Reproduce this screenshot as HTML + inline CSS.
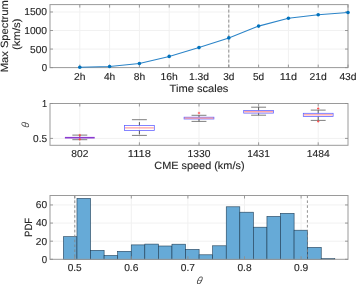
<!DOCTYPE html>
<html><head><meta charset="utf-8"><style>
html,body{margin:0;padding:0;background:#fff;}
svg{display:block;will-change:transform;}
text{stroke:#262626;stroke-width:0.12px;text-rendering:geometricPrecision;font-family:"Liberation Sans",sans-serif;}
</style></head><body>
<svg width="357" height="284" viewBox="0 0 357 284">
<rect width="357" height="284" fill="#fff"/>
<line x1="79.80" y1="4.60" x2="79.80" y2="67.60" stroke="#f1f1f1" stroke-width="1" />
<line x1="109.60" y1="4.60" x2="109.60" y2="67.60" stroke="#f1f1f1" stroke-width="1" />
<line x1="139.40" y1="4.60" x2="139.40" y2="67.60" stroke="#f1f1f1" stroke-width="1" />
<line x1="169.20" y1="4.60" x2="169.20" y2="67.60" stroke="#f1f1f1" stroke-width="1" />
<line x1="199.00" y1="4.60" x2="199.00" y2="67.60" stroke="#f1f1f1" stroke-width="1" />
<line x1="228.80" y1="4.60" x2="228.80" y2="67.60" stroke="#f1f1f1" stroke-width="1" />
<line x1="258.60" y1="4.60" x2="258.60" y2="67.60" stroke="#f1f1f1" stroke-width="1" />
<line x1="288.40" y1="4.60" x2="288.40" y2="67.60" stroke="#f1f1f1" stroke-width="1" />
<line x1="318.20" y1="4.60" x2="318.20" y2="67.60" stroke="#f1f1f1" stroke-width="1" />
<line x1="348.00" y1="4.60" x2="348.00" y2="67.60" stroke="#f1f1f1" stroke-width="1" />
<line x1="50.00" y1="49.06" x2="348.00" y2="49.06" stroke="#f1f1f1" stroke-width="1" />
<line x1="50.00" y1="30.53" x2="348.00" y2="30.53" stroke="#f1f1f1" stroke-width="1" />
<line x1="50.00" y1="11.99" x2="348.00" y2="11.99" stroke="#f1f1f1" stroke-width="1" />
<line x1="228.80" y1="4.60" x2="228.80" y2="67.60" stroke="#8c8c8c" stroke-width="1" stroke-dasharray="3,2"/>
<rect x="50" y="4.6" width="298" height="62.99999999999999" fill="none" stroke="#9a9a9a" stroke-width="1"/>
<line x1="79.80" y1="67.60" x2="79.80" y2="64.60" stroke="#8e8e8e" stroke-width="0.9" />
<line x1="79.80" y1="4.60" x2="79.80" y2="7.60" stroke="#8e8e8e" stroke-width="0.9" />
<line x1="109.60" y1="67.60" x2="109.60" y2="64.60" stroke="#8e8e8e" stroke-width="0.9" />
<line x1="109.60" y1="4.60" x2="109.60" y2="7.60" stroke="#8e8e8e" stroke-width="0.9" />
<line x1="139.40" y1="67.60" x2="139.40" y2="64.60" stroke="#8e8e8e" stroke-width="0.9" />
<line x1="139.40" y1="4.60" x2="139.40" y2="7.60" stroke="#8e8e8e" stroke-width="0.9" />
<line x1="169.20" y1="67.60" x2="169.20" y2="64.60" stroke="#8e8e8e" stroke-width="0.9" />
<line x1="169.20" y1="4.60" x2="169.20" y2="7.60" stroke="#8e8e8e" stroke-width="0.9" />
<line x1="199.00" y1="67.60" x2="199.00" y2="64.60" stroke="#8e8e8e" stroke-width="0.9" />
<line x1="199.00" y1="4.60" x2="199.00" y2="7.60" stroke="#8e8e8e" stroke-width="0.9" />
<line x1="228.80" y1="67.60" x2="228.80" y2="64.60" stroke="#8e8e8e" stroke-width="0.9" />
<line x1="228.80" y1="4.60" x2="228.80" y2="7.60" stroke="#8e8e8e" stroke-width="0.9" />
<line x1="258.60" y1="67.60" x2="258.60" y2="64.60" stroke="#8e8e8e" stroke-width="0.9" />
<line x1="258.60" y1="4.60" x2="258.60" y2="7.60" stroke="#8e8e8e" stroke-width="0.9" />
<line x1="288.40" y1="67.60" x2="288.40" y2="64.60" stroke="#8e8e8e" stroke-width="0.9" />
<line x1="288.40" y1="4.60" x2="288.40" y2="7.60" stroke="#8e8e8e" stroke-width="0.9" />
<line x1="318.20" y1="67.60" x2="318.20" y2="64.60" stroke="#8e8e8e" stroke-width="0.9" />
<line x1="318.20" y1="4.60" x2="318.20" y2="7.60" stroke="#8e8e8e" stroke-width="0.9" />
<line x1="348.00" y1="67.60" x2="348.00" y2="64.60" stroke="#8e8e8e" stroke-width="0.9" />
<line x1="348.00" y1="4.60" x2="348.00" y2="7.60" stroke="#8e8e8e" stroke-width="0.9" />
<line x1="50.00" y1="67.60" x2="53.00" y2="67.60" stroke="#8e8e8e" stroke-width="0.9" />
<line x1="348.00" y1="67.60" x2="345.00" y2="67.60" stroke="#8e8e8e" stroke-width="0.9" />
<line x1="50.00" y1="49.06" x2="53.00" y2="49.06" stroke="#8e8e8e" stroke-width="0.9" />
<line x1="348.00" y1="49.06" x2="345.00" y2="49.06" stroke="#8e8e8e" stroke-width="0.9" />
<line x1="50.00" y1="30.53" x2="53.00" y2="30.53" stroke="#8e8e8e" stroke-width="0.9" />
<line x1="348.00" y1="30.53" x2="345.00" y2="30.53" stroke="#8e8e8e" stroke-width="0.9" />
<line x1="50.00" y1="11.99" x2="53.00" y2="11.99" stroke="#8e8e8e" stroke-width="0.9" />
<line x1="348.00" y1="11.99" x2="345.00" y2="11.99" stroke="#8e8e8e" stroke-width="0.9" />
<polyline points="79.80,67.30 109.60,66.52 139.40,63.50 169.20,56.42 199.00,47.58 228.80,37.89 258.60,26.12 288.40,18.22 318.20,14.71 348.00,12.51" fill="none" stroke="#2b84c8" stroke-width="1.05"/>
<circle cx="79.80" cy="67.30" r="1.8" fill="#0072bd"/>
<circle cx="109.60" cy="66.52" r="1.8" fill="#0072bd"/>
<circle cx="139.40" cy="63.50" r="1.8" fill="#0072bd"/>
<circle cx="169.20" cy="56.42" r="1.8" fill="#0072bd"/>
<circle cx="199.00" cy="47.58" r="1.8" fill="#0072bd"/>
<circle cx="228.80" cy="37.89" r="1.8" fill="#0072bd"/>
<circle cx="258.60" cy="26.12" r="1.8" fill="#0072bd"/>
<circle cx="288.40" cy="18.22" r="1.8" fill="#0072bd"/>
<circle cx="318.20" cy="14.71" r="1.8" fill="#0072bd"/>
<circle cx="348.00" cy="12.51" r="1.8" fill="#0072bd"/>
<text x="79.80" y="79.70" text-anchor="middle" font-size="10.1" textLength="11.42" lengthAdjust="spacingAndGlyphs" fill="#262626" >2h</text>
<text x="109.60" y="79.70" text-anchor="middle" font-size="10.1" textLength="11.33" lengthAdjust="spacingAndGlyphs" fill="#262626" >4h</text>
<text x="139.40" y="79.70" text-anchor="middle" font-size="10.1" textLength="11.46" lengthAdjust="spacingAndGlyphs" fill="#262626" >8h</text>
<text x="169.20" y="79.70" text-anchor="middle" font-size="10.1" textLength="17.26" lengthAdjust="spacingAndGlyphs" fill="#262626" >16h</text>
<text x="199.00" y="79.70" text-anchor="middle" font-size="10.1" textLength="20.09" lengthAdjust="spacingAndGlyphs" fill="#262626" >1.3d</text>
<text x="228.80" y="79.70" text-anchor="middle" font-size="10.1" textLength="11.25" lengthAdjust="spacingAndGlyphs" fill="#262626" >3d</text>
<text x="258.60" y="79.70" text-anchor="middle" font-size="10.1" textLength="11.25" lengthAdjust="spacingAndGlyphs" fill="#262626" >5d</text>
<text x="288.40" y="79.70" text-anchor="middle" font-size="10.1" textLength="17.24" lengthAdjust="spacingAndGlyphs" fill="#262626" >11d</text>
<text x="318.20" y="79.70" text-anchor="middle" font-size="10.1" textLength="17.28" lengthAdjust="spacingAndGlyphs" fill="#262626" >21d</text>
<text x="348.00" y="79.70" text-anchor="middle" font-size="10.1" textLength="17.20" lengthAdjust="spacingAndGlyphs" fill="#262626" >43d</text>
<text x="47.10" y="71.10" text-anchor="end" font-size="10.1" textLength="5.38" lengthAdjust="spacingAndGlyphs" fill="#262626" >0</text>
<text x="47.10" y="52.56" text-anchor="end" font-size="10.1" textLength="17.09" lengthAdjust="spacingAndGlyphs" fill="#262626" >500</text>
<text x="47.10" y="34.03" text-anchor="end" font-size="10.1" textLength="22.93" lengthAdjust="spacingAndGlyphs" fill="#262626" >1000</text>
<text x="47.10" y="15.49" text-anchor="end" font-size="10.1" textLength="22.93" lengthAdjust="spacingAndGlyphs" fill="#262626" >1500</text>
<text x="199.00" y="91.80" text-anchor="middle" font-size="10.5" textLength="58.78" lengthAdjust="spacingAndGlyphs" fill="#262626" >Time scales</text>
<g transform="translate(8.4,36.3) rotate(-90)">
<text x="0.00" y="0.00" text-anchor="middle" font-size="10.5" textLength="72.03" lengthAdjust="spacingAndGlyphs" fill="#262626" >Max Spectrum</text>
</g>
<g transform="translate(20.0,34.2) rotate(-90)">
<text x="0.00" y="0.00" text-anchor="middle" font-size="10.5" textLength="31.59" lengthAdjust="spacingAndGlyphs" fill="#262626" >(km/s)</text>
</g>
<line x1="79.80" y1="103.50" x2="79.80" y2="145.30" stroke="#f1f1f1" stroke-width="1" />
<line x1="139.40" y1="103.50" x2="139.40" y2="145.30" stroke="#f1f1f1" stroke-width="1" />
<line x1="199.00" y1="103.50" x2="199.00" y2="145.30" stroke="#f1f1f1" stroke-width="1" />
<line x1="258.60" y1="103.50" x2="258.60" y2="145.30" stroke="#f1f1f1" stroke-width="1" />
<line x1="318.20" y1="103.50" x2="318.20" y2="145.30" stroke="#f1f1f1" stroke-width="1" />
<line x1="50.00" y1="138.40" x2="348.00" y2="138.40" stroke="#f1f1f1" stroke-width="1" />
<rect x="50" y="103.5" width="298" height="41.80000000000001" fill="none" stroke="#9a9a9a" stroke-width="1"/>
<line x1="79.80" y1="135.10" x2="79.80" y2="136.90" stroke="#303030" stroke-width="0.8" />
<line x1="79.80" y1="138.50" x2="79.80" y2="139.70" stroke="#303030" stroke-width="0.8" />
<line x1="72.35" y1="135.10" x2="87.25" y2="135.10" stroke="#5e5e5e" stroke-width="0.8" />
<line x1="72.35" y1="139.70" x2="87.25" y2="139.70" stroke="#5e5e5e" stroke-width="0.8" />
<line x1="64.90" y1="137.70" x2="94.70" y2="137.70" stroke="#8a3ad0" stroke-width="1.6" />
<line x1="78.60" y1="135.10" x2="81.00" y2="135.10" stroke="#ff4040" stroke-width="0.8" />
<line x1="79.80" y1="133.90" x2="79.80" y2="136.30" stroke="#ff4040" stroke-width="0.8" />
<line x1="78.60" y1="139.40" x2="81.00" y2="139.40" stroke="#ff4040" stroke-width="0.8" />
<line x1="79.80" y1="138.20" x2="79.80" y2="140.60" stroke="#ff4040" stroke-width="0.8" />
<line x1="139.40" y1="119.70" x2="139.40" y2="125.40" stroke="#303030" stroke-width="0.8" stroke-dasharray="0,2.4,4,2"/>
<line x1="139.40" y1="130.40" x2="139.40" y2="135.40" stroke="#303030" stroke-width="0.8" stroke-dasharray="4,2"/>
<line x1="131.95" y1="119.70" x2="146.85" y2="119.70" stroke="#5e5e5e" stroke-width="0.8" />
<line x1="131.95" y1="135.40" x2="146.85" y2="135.40" stroke="#5e5e5e" stroke-width="0.8" />
<rect x="124.50" y="125.40" width="29.80" height="5.00" fill="none" stroke="#5c5cff" stroke-width="0.75"/>
<line x1="125.00" y1="127.90" x2="153.80" y2="127.90" stroke="#ff7a7a" stroke-width="0.9" />
<line x1="199.00" y1="115.30" x2="199.00" y2="117.20" stroke="#303030" stroke-width="0.8" />
<line x1="199.00" y1="119.00" x2="199.00" y2="121.40" stroke="#303030" stroke-width="0.8" />
<line x1="191.55" y1="115.30" x2="206.45" y2="115.30" stroke="#5e5e5e" stroke-width="0.8" />
<line x1="191.55" y1="121.40" x2="206.45" y2="121.40" stroke="#5e5e5e" stroke-width="0.8" />
<rect x="184.10" y="117.20" width="29.80" height="1.80" fill="none" stroke="#5c5cff" stroke-width="0.75"/>
<line x1="184.60" y1="118.10" x2="213.40" y2="118.10" stroke="#ff7a7a" stroke-width="0.9" />
<line x1="197.80" y1="113.00" x2="200.20" y2="113.00" stroke="#ff4040" stroke-width="0.8" />
<line x1="199.00" y1="111.80" x2="199.00" y2="114.20" stroke="#ff4040" stroke-width="0.8" />
<line x1="258.60" y1="107.20" x2="258.60" y2="110.40" stroke="#303030" stroke-width="0.8" />
<line x1="258.60" y1="113.10" x2="258.60" y2="115.20" stroke="#303030" stroke-width="0.8" />
<line x1="251.15" y1="107.20" x2="266.05" y2="107.20" stroke="#5e5e5e" stroke-width="0.8" />
<line x1="251.15" y1="115.20" x2="266.05" y2="115.20" stroke="#5e5e5e" stroke-width="0.8" />
<rect x="243.70" y="110.40" width="29.80" height="2.70" fill="none" stroke="#5c5cff" stroke-width="0.75"/>
<line x1="244.20" y1="111.75" x2="273.00" y2="111.75" stroke="#ff7a7a" stroke-width="0.9" />
<line x1="318.20" y1="110.10" x2="318.20" y2="113.30" stroke="#303030" stroke-width="0.8" />
<line x1="318.20" y1="116.40" x2="318.20" y2="120.40" stroke="#303030" stroke-width="0.8" />
<line x1="310.75" y1="110.10" x2="325.65" y2="110.10" stroke="#5e5e5e" stroke-width="0.8" />
<line x1="310.75" y1="120.40" x2="325.65" y2="120.40" stroke="#5e5e5e" stroke-width="0.8" />
<rect x="303.30" y="113.30" width="29.80" height="3.10" fill="none" stroke="#5c5cff" stroke-width="0.75"/>
<line x1="303.80" y1="114.85" x2="332.60" y2="114.85" stroke="#ff7a7a" stroke-width="0.9" />
<line x1="317.00" y1="108.50" x2="319.40" y2="108.50" stroke="#ff4040" stroke-width="0.8" />
<line x1="318.20" y1="107.30" x2="318.20" y2="109.70" stroke="#ff4040" stroke-width="0.8" />
<line x1="317.00" y1="121.40" x2="319.40" y2="121.40" stroke="#ff4040" stroke-width="0.8" />
<line x1="318.20" y1="120.20" x2="318.20" y2="122.60" stroke="#ff4040" stroke-width="0.8" />
<line x1="79.80" y1="145.30" x2="79.80" y2="142.30" stroke="#8e8e8e" stroke-width="0.9" />
<line x1="79.80" y1="103.50" x2="79.80" y2="106.50" stroke="#8e8e8e" stroke-width="0.9" />
<line x1="139.40" y1="145.30" x2="139.40" y2="142.30" stroke="#8e8e8e" stroke-width="0.9" />
<line x1="139.40" y1="103.50" x2="139.40" y2="106.50" stroke="#8e8e8e" stroke-width="0.9" />
<line x1="199.00" y1="145.30" x2="199.00" y2="142.30" stroke="#8e8e8e" stroke-width="0.9" />
<line x1="199.00" y1="103.50" x2="199.00" y2="106.50" stroke="#8e8e8e" stroke-width="0.9" />
<line x1="258.60" y1="145.30" x2="258.60" y2="142.30" stroke="#8e8e8e" stroke-width="0.9" />
<line x1="258.60" y1="103.50" x2="258.60" y2="106.50" stroke="#8e8e8e" stroke-width="0.9" />
<line x1="318.20" y1="145.30" x2="318.20" y2="142.30" stroke="#8e8e8e" stroke-width="0.9" />
<line x1="318.20" y1="103.50" x2="318.20" y2="106.50" stroke="#8e8e8e" stroke-width="0.9" />
<line x1="50.00" y1="103.50" x2="53.00" y2="103.50" stroke="#8e8e8e" stroke-width="0.9" />
<line x1="348.00" y1="103.50" x2="345.00" y2="103.50" stroke="#8e8e8e" stroke-width="0.9" />
<line x1="50.00" y1="138.40" x2="53.00" y2="138.40" stroke="#8e8e8e" stroke-width="0.9" />
<line x1="348.00" y1="138.40" x2="345.00" y2="138.40" stroke="#8e8e8e" stroke-width="0.9" />
<text x="79.80" y="156.50" text-anchor="middle" font-size="10.1" textLength="17.06" lengthAdjust="spacingAndGlyphs" fill="#262626" >802</text>
<text x="139.40" y="156.50" text-anchor="middle" font-size="10.1" textLength="23.10" lengthAdjust="spacingAndGlyphs" fill="#262626" >1118</text>
<text x="199.00" y="156.50" text-anchor="middle" font-size="10.1" textLength="22.93" lengthAdjust="spacingAndGlyphs" fill="#262626" >1330</text>
<text x="258.60" y="156.50" text-anchor="middle" font-size="10.1" textLength="22.80" lengthAdjust="spacingAndGlyphs" fill="#262626" >1431</text>
<text x="318.20" y="156.50" text-anchor="middle" font-size="10.1" textLength="22.98" lengthAdjust="spacingAndGlyphs" fill="#262626" >1484</text>
<text x="47.10" y="106.90" text-anchor="end" font-size="10.1" textLength="5.12" lengthAdjust="spacingAndGlyphs" fill="#262626" >1</text>
<text x="47.10" y="142.10" text-anchor="end" font-size="10.1" textLength="14.06" lengthAdjust="spacingAndGlyphs" fill="#262626" >0.5</text>
<text x="199.40" y="169.40" text-anchor="middle" font-size="10.5" textLength="90.25" lengthAdjust="spacingAndGlyphs" fill="#262626" >CME speed (km/s)</text>
<text transform="translate(28.7,125.3) rotate(-90) skewX(-5)" text-anchor="middle" font-family="Liberation Serif" font-style="italic" font-size="10.4" fill="#444" style="stroke:none">&#952;</text>
<line x1="74.70" y1="195.50" x2="74.70" y2="259.30" stroke="#f1f1f1" stroke-width="1" />
<line x1="131.30" y1="195.50" x2="131.30" y2="259.30" stroke="#f1f1f1" stroke-width="1" />
<line x1="187.90" y1="195.50" x2="187.90" y2="259.30" stroke="#f1f1f1" stroke-width="1" />
<line x1="244.50" y1="195.50" x2="244.50" y2="259.30" stroke="#f1f1f1" stroke-width="1" />
<line x1="301.10" y1="195.50" x2="301.10" y2="259.30" stroke="#f1f1f1" stroke-width="1" />
<line x1="50.00" y1="241.18" x2="348.00" y2="241.18" stroke="#f1f1f1" stroke-width="1" />
<line x1="50.00" y1="223.07" x2="348.00" y2="223.07" stroke="#f1f1f1" stroke-width="1" />
<line x1="50.00" y1="204.95" x2="348.00" y2="204.95" stroke="#f1f1f1" stroke-width="1" />
<rect x="63.40" y="236.70" width="13.57" height="22.60" fill="#66aad7" stroke="#1f3d55" stroke-width="0.6"/>
<rect x="76.97" y="198.40" width="13.57" height="60.90" fill="#66aad7" stroke="#1f3d55" stroke-width="0.6"/>
<rect x="90.54" y="250.30" width="13.57" height="9.00" fill="#66aad7" stroke="#1f3d55" stroke-width="0.6"/>
<rect x="104.11" y="255.50" width="13.57" height="3.80" fill="#66aad7" stroke="#1f3d55" stroke-width="0.6"/>
<rect x="117.68" y="251.30" width="13.57" height="8.00" fill="#66aad7" stroke="#1f3d55" stroke-width="0.6"/>
<rect x="131.25" y="244.90" width="13.57" height="14.40" fill="#66aad7" stroke="#1f3d55" stroke-width="0.6"/>
<rect x="144.82" y="244.10" width="13.57" height="15.20" fill="#66aad7" stroke="#1f3d55" stroke-width="0.6"/>
<rect x="158.39" y="246.00" width="13.57" height="13.30" fill="#66aad7" stroke="#1f3d55" stroke-width="0.6"/>
<rect x="171.96" y="244.20" width="13.57" height="15.10" fill="#66aad7" stroke="#1f3d55" stroke-width="0.6"/>
<rect x="185.53" y="249.40" width="13.57" height="9.90" fill="#66aad7" stroke="#1f3d55" stroke-width="0.6"/>
<rect x="199.10" y="254.80" width="13.57" height="4.50" fill="#66aad7" stroke="#1f3d55" stroke-width="0.6"/>
<rect x="212.67" y="245.80" width="13.57" height="13.50" fill="#66aad7" stroke="#1f3d55" stroke-width="0.6"/>
<rect x="226.24" y="206.80" width="13.57" height="52.50" fill="#66aad7" stroke="#1f3d55" stroke-width="0.6"/>
<rect x="239.81" y="212.20" width="13.57" height="47.10" fill="#66aad7" stroke="#1f3d55" stroke-width="0.6"/>
<rect x="253.38" y="227.20" width="13.57" height="32.10" fill="#66aad7" stroke="#1f3d55" stroke-width="0.6"/>
<rect x="266.95" y="216.40" width="13.57" height="42.90" fill="#66aad7" stroke="#1f3d55" stroke-width="0.6"/>
<rect x="280.52" y="213.30" width="13.57" height="46.00" fill="#66aad7" stroke="#1f3d55" stroke-width="0.6"/>
<rect x="294.09" y="230.20" width="13.57" height="29.10" fill="#66aad7" stroke="#1f3d55" stroke-width="0.6"/>
<rect x="307.66" y="247.40" width="13.57" height="11.90" fill="#66aad7" stroke="#1f3d55" stroke-width="0.6"/>
<rect x="321.23" y="258.50" width="13.57" height="0.80" fill="#66aad7" stroke="#1f3d55" stroke-width="0.6"/>
<line x1="74.80" y1="195.50" x2="74.80" y2="259.30" stroke="#858585" stroke-width="0.9" stroke-dasharray="2.6,2.3"/>
<line x1="307.40" y1="195.50" x2="307.40" y2="259.30" stroke="#858585" stroke-width="0.9" stroke-dasharray="2.6,2.3"/>
<rect x="50" y="195.5" width="298" height="63.80000000000001" fill="none" stroke="#9a9a9a" stroke-width="1"/>
<line x1="74.70" y1="259.30" x2="74.70" y2="256.30" stroke="#8e8e8e" stroke-width="0.9" />
<line x1="74.70" y1="195.50" x2="74.70" y2="198.50" stroke="#8e8e8e" stroke-width="0.9" />
<line x1="131.30" y1="259.30" x2="131.30" y2="256.30" stroke="#8e8e8e" stroke-width="0.9" />
<line x1="131.30" y1="195.50" x2="131.30" y2="198.50" stroke="#8e8e8e" stroke-width="0.9" />
<line x1="187.90" y1="259.30" x2="187.90" y2="256.30" stroke="#8e8e8e" stroke-width="0.9" />
<line x1="187.90" y1="195.50" x2="187.90" y2="198.50" stroke="#8e8e8e" stroke-width="0.9" />
<line x1="244.50" y1="259.30" x2="244.50" y2="256.30" stroke="#8e8e8e" stroke-width="0.9" />
<line x1="244.50" y1="195.50" x2="244.50" y2="198.50" stroke="#8e8e8e" stroke-width="0.9" />
<line x1="301.10" y1="259.30" x2="301.10" y2="256.30" stroke="#8e8e8e" stroke-width="0.9" />
<line x1="301.10" y1="195.50" x2="301.10" y2="198.50" stroke="#8e8e8e" stroke-width="0.9" />
<line x1="50.00" y1="259.30" x2="53.00" y2="259.30" stroke="#8e8e8e" stroke-width="0.9" />
<line x1="348.00" y1="259.30" x2="345.00" y2="259.30" stroke="#8e8e8e" stroke-width="0.9" />
<line x1="50.00" y1="241.18" x2="53.00" y2="241.18" stroke="#8e8e8e" stroke-width="0.9" />
<line x1="348.00" y1="241.18" x2="345.00" y2="241.18" stroke="#8e8e8e" stroke-width="0.9" />
<line x1="50.00" y1="223.07" x2="53.00" y2="223.07" stroke="#8e8e8e" stroke-width="0.9" />
<line x1="348.00" y1="223.07" x2="345.00" y2="223.07" stroke="#8e8e8e" stroke-width="0.9" />
<line x1="50.00" y1="204.95" x2="53.00" y2="204.95" stroke="#8e8e8e" stroke-width="0.9" />
<line x1="348.00" y1="204.95" x2="345.00" y2="204.95" stroke="#8e8e8e" stroke-width="0.9" />
<text x="74.70" y="270.90" text-anchor="middle" font-size="10.1" textLength="14.06" lengthAdjust="spacingAndGlyphs" fill="#262626" >0.5</text>
<text x="131.30" y="270.90" text-anchor="middle" font-size="10.1" textLength="14.30" lengthAdjust="spacingAndGlyphs" fill="#262626" >0.6</text>
<text x="187.90" y="270.90" text-anchor="middle" font-size="10.1" textLength="14.17" lengthAdjust="spacingAndGlyphs" fill="#262626" >0.7</text>
<text x="244.50" y="270.90" text-anchor="middle" font-size="10.1" textLength="14.25" lengthAdjust="spacingAndGlyphs" fill="#262626" >0.8</text>
<text x="301.10" y="270.90" text-anchor="middle" font-size="10.1" textLength="14.26" lengthAdjust="spacingAndGlyphs" fill="#262626" >0.9</text>
<text x="47.10" y="262.70" text-anchor="end" font-size="10.1" textLength="5.38" lengthAdjust="spacingAndGlyphs" fill="#262626" >0</text>
<text x="47.10" y="244.58" text-anchor="end" font-size="10.1" textLength="11.28" lengthAdjust="spacingAndGlyphs" fill="#262626" >20</text>
<text x="47.10" y="226.47" text-anchor="end" font-size="10.1" textLength="11.20" lengthAdjust="spacingAndGlyphs" fill="#262626" >40</text>
<text x="47.10" y="208.35" text-anchor="end" font-size="10.1" textLength="11.33" lengthAdjust="spacingAndGlyphs" fill="#262626" >60</text>
<g transform="translate(31.5,227.4) rotate(-90)">
<text x="0.00" y="0.00" text-anchor="middle" font-size="10.5" textLength="19.10" lengthAdjust="spacingAndGlyphs" fill="#262626" >PDF</text>
</g>
<text transform="translate(198.7,284.2) skewX(-12)" text-anchor="middle" font-family="Liberation Serif" font-style="italic" font-size="10.4" fill="#444" style="stroke:none">&#952;</text>
</svg></body></html>
